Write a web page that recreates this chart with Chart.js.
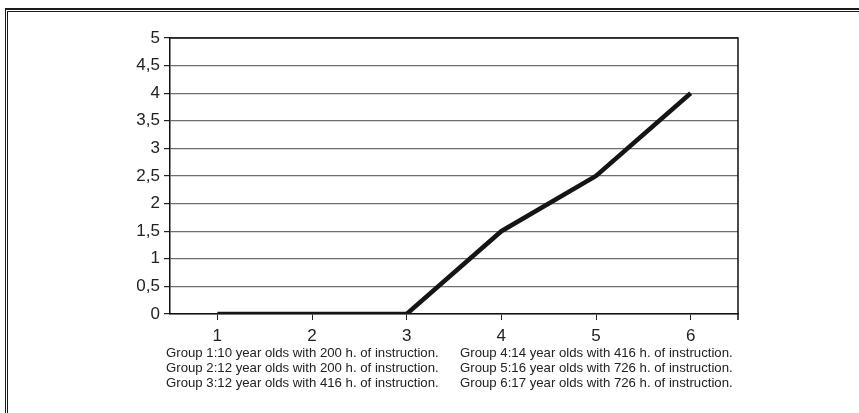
<!DOCTYPE html>
<html>
<head>
<meta charset="utf-8">
<script src="https://cdn.jsdelivr.net/npm/chart.js@4.4.1/dist/chart.umd.min.js"></script>
<style>
  html, body { margin: 0; padding: 0; background: #fff; }
  #wrap { position: relative; width: 859px; height: 413px; overflow: hidden; }
  #chart { position: absolute; left: 0; top: 0; }
  .rule { position: absolute; background: #1a1a1a; }
  .notes { position: absolute; font-family: "Liberation Sans", Arial, sans-serif; font-size: 13.2px; line-height: 15px; color: #222; white-space: nowrap; }
</style>
</head>
<body>
<div id="wrap">
  <canvas id="chart" width="859" height="413"></canvas>
  <!-- frame: double line on top and left only -->
  <div class="rule" style="left:5px; top:8px; width:854px; height:2px;"></div>
  <div class="rule" style="left:7px; top:11px; width:852px; height:1px;"></div>
  <div class="rule" style="left:5px; top:8px; width:1px; height:405px;"></div>
  <div class="rule" style="left:7px; top:11px; width:1px; height:402px;"></div>
  <div class="notes" id="notesLeft" style="left:166px; top:345px;"></div>
  <div class="notes" id="notesRight" style="left:460px; top:345px;"></div>
</div>
<script>
// categories and values
const groups = ['1', '2', '3', '4', '5', '6'];
const scores = [0, 0, 0, 1.5, 2.5, 4];

// y ticks 0 .. 5, step 0.5
const yMin = 0;
const yMax = 5;
const yStep = 0.5;

// group descriptions under the axis
const groupNotes = [
    'Group 1:10 year olds with 200 h. of instruction.',
    'Group 2:12 year olds with 200 h. of instruction.',
    'Group 3:12 year olds with 416 h. of instruction.',
    'Group 4:14 year olds with 416 h. of instruction.',
    'Group 5:16 year olds with 726 h. of instruction.',
    'Group 6:17 year olds with 726 h. of instruction.'
];

document.getElementById('notesLeft').innerHTML = groupNotes.slice(0, 3).join('<br>');
document.getElementById('notesRight').innerHTML = groupNotes.slice(3).join('<br>');

// draws the top and right edges of the plot area
const plotFrame = {
    id: 'plotFrame',
    afterDraw(chart) {
        const a = chart.chartArea;
        const ctx = chart.ctx;
        ctx.save();
        ctx.strokeStyle = '#111';
        ctx.lineWidth = 1.5;
        ctx.beginPath();
        ctx.moveTo(a.left, a.top);
        ctx.lineTo(a.right, a.top);
        ctx.lineTo(a.right, a.bottom + 6);
        ctx.stroke();
        ctx.restore();
    }
};

const ctx = document.getElementById('chart').getContext('2d');

new Chart(ctx, {
    type: 'line',
    data: {
        labels: groups,
        datasets: [{
            data: scores,
            borderColor: '#151515',
            borderWidth: 4.5,
            pointRadius: 0,
            tension: 0,
            fill: false
        }]
    },
    options: {
        responsive: false,
        animation: false,
        layout: {
            padding: { left: 0, top: 38, right: 121, bottom: 69 }
        },
        plugins: {
            legend: { display: false },
            tooltip: { enabled: false }
        },
        scales: {
            x: {
                offset: true,
                afterFit: (scale) => { scale.height = 30; },
                grid: {
                    offset: false,
                    drawOnChartArea: false,
                    tickLength: 6,
                    tickColor: '#222'
                },
                border: { color: '#111', width: 1.5 },
                ticks: {
                    color: '#222',
                    padding: 6,
                    font: { family: '"Liberation Sans", Arial, sans-serif', size: 17 }
                }
            },
            y: {
                min: yMin,
                max: yMax,
                afterFit: (scale) => { scale.width = 170; },
                grid: {
                    color: '#6e6e6e',
                    lineWidth: 1.2,
                    tickLength: 6,
                    tickColor: '#222'
                },
                border: { color: '#111', width: 1.5 },
                ticks: {
                    stepSize: yStep,
                    color: '#222',
                    padding: 4,
                    font: { family: '"Liberation Sans", Arial, sans-serif', size: 17 },
                    callback: (value) => String(value).replace('.', ',')
                }
            }
        }
    },
    plugins: [plotFrame]
});
</script>
</body>
</html>
